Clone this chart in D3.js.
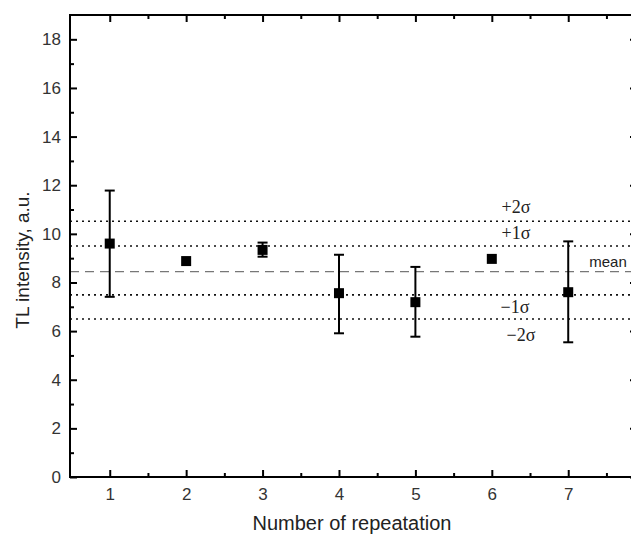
<!DOCTYPE html>
<html lang="en">
<head>
<meta charset="UTF-8">
<title>TL intensity</title>
<script src="https://cdnjs.cloudflare.com/ajax/libs/d3/7.8.5/d3.min.js"></script>
<style>
    body{ margin:0; background:#fff; }
    svg{ display:block; }
</style>
</head>
<body>
<svg width="631" height="534"></svg>
<script>
// data
const repeats   = [1, 2, 3, 4, 5, 6, 7];
const intensity = [9.60, 8.88, 9.34, 7.56, 7.19, 8.97, 7.60];
const errHigh   = [11.78, null, 9.64, 9.14, 8.64, null, 9.69];
const errLow    = [7.41, null, 9.06, 5.91, 5.77, null, 5.54];

const refNames  = ["+2σ", "+1σ", "mean", "−1σ", "−2σ"];
const refValues = [10.52, 9.50, 8.45, 7.49, 6.50];

const yTicks = [0, 2, 4, 6, 8, 10, 12, 14, 16, 18];

const svg = d3.select("svg");
const plotL = 70, plotR = 637, plotT = 15, plotB = 477;

const x = d3.scaleLinear().domain([0.48, 7.9]).range([plotL, plotR]);
const y = d3.scaleLinear().domain([0, 19]).range([plotB, plotT]);

// reference lines (sigma + mean)
const refs = refNames.map((n, i) => ({name: n, v: refValues[i]}));
svg.append("g").selectAll("line")
    .data(refs)
    .enter().append("line")
    .attr("x1", plotL).attr("x2", plotR)
    .attr("y1", d => y(d.v)).attr("y2", d => y(d.v))
    .attr("stroke", d => d.name == "mean" ? "#777" : "#111")
    .attr("stroke-width", d => d.name == "mean" ? 1.3 : 1.6)
    .attr("stroke-dasharray", d => d.name == "mean" ? "9,6" : "2,4");

// labels for reference lines
const labelPos = {"+2σ": [516, -8], "+1σ": [516, -7], "mean": [608, -5], "−1σ": [515, 18], "−2σ": [521, 22]};
svg.append("g").selectAll("text")
    .data(refs)
    .enter().append("text")
    .attr("x", d => labelPos[d.name][0])
    .attr("y", d => y(d.v) + labelPos[d.name][1])
    .attr("text-anchor", "middle")
    .style("font-family", d => d.name == "mean" ? "'Liberation Sans', Arial, sans-serif" : "'Liberation Serif', 'Times New Roman', serif")
    .style("font-size", d => d.name == "mean" ? "15px" : "18px")
    .attr("fill", "#222")
    .text(d => d.name);

// error bars
const pts = repeats.map((r, i) => ({r: r, v: intensity[i], hi: errHigh[i], lo: errLow[i]}));
const bars = svg.append("g").selectAll("g")
    .data(pts.filter(d => d.hi != null))
    .enter().append("g")
    .attr("stroke", "#000")
    .attr("stroke-width", 2);
bars.append("line")
    .attr("x1", d => x(d.r)).attr("x2", d => x(d.r))
    .attr("y1", d => y(d.hi)).attr("y2", d => y(d.lo));
bars.append("line")
    .attr("x1", d => x(d.r) - 5).attr("x2", d => x(d.r) + 5)
    .attr("y1", d => y(d.hi)).attr("y2", d => y(d.hi));
bars.append("line")
    .attr("x1", d => x(d.r) - 5).attr("x2", d => x(d.r) + 5)
    .attr("y1", d => y(d.lo)).attr("y2", d => y(d.lo));

// square markers
svg.append("g").selectAll("rect")
    .data(pts)
    .enter().append("rect")
    .attr("x", d => x(d.r) - 5)
    .attr("y", d => y(d.v) - 5)
    .attr("width", 10).attr("height", 10)
    .attr("fill", "#000");

// axes, ticks inward
const xMinor = d3.range(1.5, 8, 1);
const yMinor = d3.range(1, 19, 2);

function styleAxis(g){
    g.select(".domain").remove();
    g.selectAll(".tick line").attr("stroke", "#000").attr("stroke-width", 2);
    g.selectAll(".tick text")
        .style("font-family", "'Liberation Sans', Arial, sans-serif")
        .style("font-size", "17px")
        .attr("fill", "#333");
}

svg.append("g")
    .attr("transform", `translate(0,${plotB})`)
    .call(d3.axisBottom(x).tickValues(repeats).tickFormat(d3.format("d")).tickSizeInner(-7).tickPadding(11))
    .call(styleAxis);
svg.append("g")
    .attr("transform", `translate(0,${plotB})`)
    .call(d3.axisBottom(x).tickValues(xMinor).tickFormat("").tickSizeInner(-4))
    .call(styleAxis);
svg.append("g")
    .attr("transform", `translate(0,${plotT})`)
    .call(d3.axisTop(x).tickValues(repeats).tickFormat("").tickSizeInner(-7))
    .call(styleAxis);
svg.append("g")
    .attr("transform", `translate(0,${plotT})`)
    .call(d3.axisTop(x).tickValues(xMinor).tickFormat("").tickSizeInner(-4))
    .call(styleAxis);

svg.append("g")
    .attr("transform", `translate(${plotL},0)`)
    .call(d3.axisLeft(y).tickValues(yTicks).tickSizeInner(-7).tickPadding(9))
    .call(styleAxis);
svg.append("g")
    .attr("transform", `translate(${plotL},0)`)
    .call(d3.axisLeft(y).tickValues(yMinor).tickFormat("").tickSizeInner(-4))
    .call(styleAxis);
svg.append("g")
    .attr("transform", `translate(${plotR},0)`)
    .call(d3.axisRight(y).tickValues(yTicks).tickFormat("").tickSizeInner(-7))
    .call(styleAxis);
svg.append("g")
    .attr("transform", `translate(${plotR},0)`)
    .call(d3.axisRight(y).tickValues(yMinor).tickFormat("").tickSizeInner(-4))
    .call(styleAxis);

// frame
svg.append("rect")
    .attr("x", plotL).attr("y", plotT)
    .attr("width", plotR - plotL).attr("height", plotB - plotT)
    .attr("fill", "none").attr("stroke", "#000").attr("stroke-width", 2);

// axis titles
svg.append("text")
    .attr("x", 352).attr("y", 530)
    .attr("text-anchor", "middle")
    .style("font-family", "'Liberation Sans', Arial, sans-serif")
    .style("font-size", "20px")
    .attr("fill", "#222")
    .text("Number of repeatation");
svg.append("text")
    .attr("transform", "translate(29,260) rotate(-90)")
    .attr("text-anchor", "middle")
    .style("font-family", "'Liberation Sans', Arial, sans-serif")
    .style("font-size", "19px")
    .attr("fill", "#222")
    .text("TL intensity, a.u.");
</script>
</body>
</html>
